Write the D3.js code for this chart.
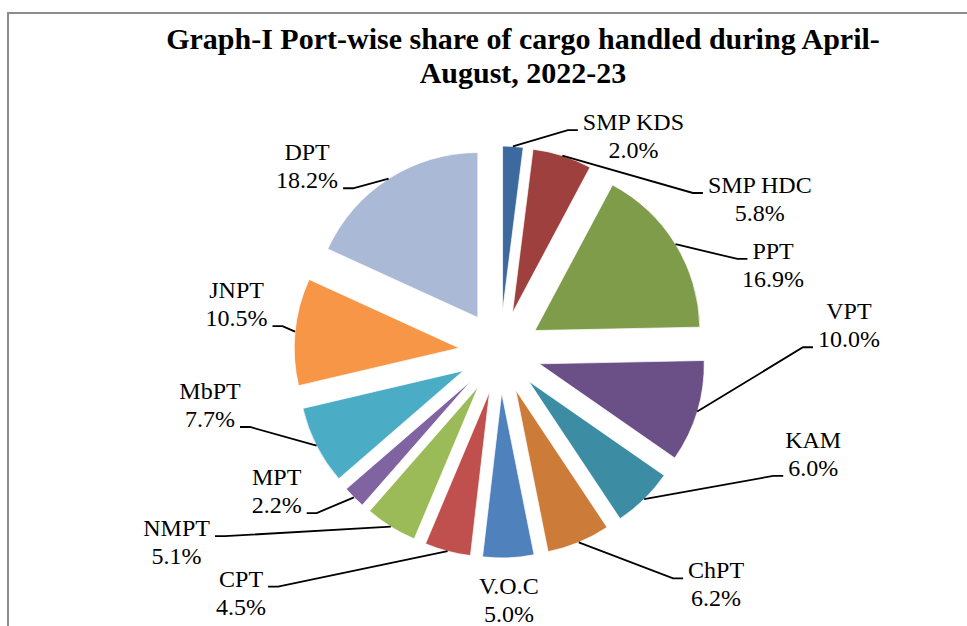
<!DOCTYPE html>
<html lang="en">
<head>
  <meta charset="UTF-8" />
  <title>Port-wise share of cargo handled</title>
  <script src="https://d3js.org/d3.v7.min.js"></script>
  <style>
    body { margin: 0; background: #fff; }
    svg { display: block; }
    .title { font-family: "Liberation Serif", "Times New Roman", serif; font-weight: bold; font-size: 30px; fill: #000; }
    .lbl { font-family: "Liberation Serif", "Times New Roman", serif; font-size: 24px; fill: #000; }
    .leader { fill: none; stroke: #000; stroke-width: 1.8px; }
  </style>
</head>
<body>
  <script>
    // data
    const ports  = ["SMP KDS", "SMP HDC", "PPT", "VPT", "KAM", "ChPT", "V.O.C",
                    "CPT", "NMPT", "MPT", "MbPT", "JNPT", "DPT"];
    const shares = [2.0, 5.8, 16.9, 10.0, 6.0, 6.2, 5.0, 4.5, 5.1, 2.2, 7.7, 10.5, 18.2];
    const colors = ["#3d6a9e", "#9e413e", "#7f9c4a", "#6a5087", "#3c8da3", "#cc7b39", "#4f81bd",
                    "#c0504d", "#9bbb59", "#8064a2", "#4bacc6", "#f79646", "#aab9d6"];

    // where each label's leader bends (angle in degrees from 12 o'clock, radius from pie centre)
    // and which row of the label the leader points at
    const labelAngle  = [17, 50.5, 68.6, 89.1, 114.4, 142.6, 177.9, 223.4, 236.2, 228.7, 253.3, 276.8, 318.1];
    const labelRadius = [232, 250, 255, 303, 300, 285, 242, 323, 331, 244, 261, 219, 220];
    const labelRow    = [0, 0, 0, 1, 1, 0, 0, 0, 0, 1, 1, 1, 1];

    const W = 967, H = 626;
    const cx = 500, cy = 352, R = 165, explode = 41, lineGap = 28;

    const svg = d3.select("body").append("svg").attr("width", W).attr("height", H);

    // chart frame (runs off the right and bottom of the picture)
    svg.append("rect")
      .attr("x", 8).attr("y", 13)
      .attr("width", W + 20).attr("height", H + 20)
      .attr("fill", "#fff").attr("stroke", "#8c8c8c").attr("stroke-width", 2);

    const title = svg.append("text").attr("class", "title").attr("text-anchor", "middle");
    title.append("tspan").attr("x", 523).attr("y", 49)
      .text("Graph-I Port-wise share of cargo handled during April-");
    title.append("tspan").attr("x", 523).attr("y", 83).text("August, 2022-23");

    const pie = d3.pie().sort(null).value(d => d)(shares);
    const arc = d3.arc().innerRadius(0).outerRadius(R);
    const g = svg.append("g").attr("transform", `translate(${cx},${cy})`);

    const polar = (a, r) => [r * Math.sin(a), -r * Math.cos(a)];
    const mid = d => (d.startAngle + d.endAngle) / 2;

    g.selectAll("path.slice")
      .data(pie)
      .join("path")
      .attr("class", "slice")
      .attr("d", arc)
      .attr("transform", d => `translate(${polar(mid(d), explode)})`)
      .attr("fill", (d, i) => colors[i])
      .attr("stroke", "#fff")
      .attr("stroke-width", 0.7);

    pie.forEach((d, i) => {
      const a = mid(d);
      const off = polar(a, explode);
      const edge = polar(a, R);
      const start = [off[0] + edge[0], off[1] + edge[1]];
      const elbow = polar(labelAngle[i] * Math.PI / 180, labelRadius[i]);
      const rows = [ports[i], d3.format(".1f")(shares[i]) + "%"];

      const texts = rows.map(t =>
        g.append("text").attr("class", "lbl").attr("text-anchor", "middle").text(t));
      const widths = texts.map(t => t.node().getComputedTextLength());

      let centreX;
      const side = i === 6 ? 0 : (elbow[0] > 0 ? 1 : -1);
      if (side === 0) {
        centreX = elbow[0];
      } else {
        const segEnd = elbow[0] + side * 10;
        g.append("path").attr("class", "leader")
          .attr("d", d3.line()([start, elbow, [segEnd, elbow[1]]]));
        centreX = segEnd + side * (5 + widths[labelRow[i]] / 2);
      }
      const base = elbow[1] - labelRow[i] * lineGap;
      texts.forEach((t, k) => t.attr("x", centreX).attr("y", base + k * lineGap));
    });
  </script>
</body>
</html>
